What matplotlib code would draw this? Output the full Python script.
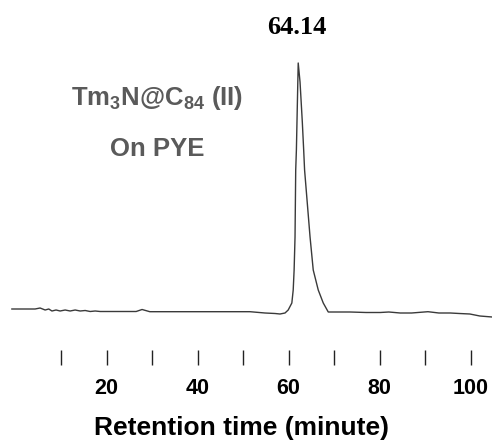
import matplotlib
matplotlib.use("Agg")
import matplotlib.pyplot as plt
import numpy as np

# chromatogram trace (time in minutes, signal in arb. units)
base_left_t = [-0.8, 4.3, 5.4, 6.5, 7.3, 8.0, 8.9, 9.8, 10.9, 12.0, 13.1, 14.2, 15.3,
               16.4, 17.5, 18.6, 22.0, 26.5, 27.8, 29.5, 35.0, 40.5, 46.0, 51.5, 54.8,
               57.0, 58.1, 59.2]
base_left_s = [3, 3, 4, 2, 3, 1, 2, 1, 2, 1, 2, 1, 1.5,
               0.5, 1, 0.5, 0.5, 0.5, 2.5, 0.3, 0.3, 0.3, 0.3, 0.3, -1,
               -1.5, -2, -1]
peak_t = [59.9, 60.7, 61.0, 61.2, 61.4, 61.55, 61.7, 62.1, 62.5, 63.0, 63.3, 63.5,
          64.7, 65.4, 66.5, 67.6, 68.7]
peak_s = [2, 9, 22, 42, 75, 142, 162, 249, 230, 190, 162, 142,
          75, 42, 22, 9, 0]
base_right_t = [70.0, 73.5, 77.0, 80.1, 82.0, 84.5, 87.0, 90.6, 93.0, 95.5, 97.5, 99.8,
                102.0, 104.7]
base_right_s = [0, 0, -0.5, -0.5, 0, -1, -1, 0.3, -1, -1, -1.5, -2,
                -4, -5]

time = np.array(base_left_t + peak_t + base_right_t)
signal = np.array(base_left_s + peak_s + base_right_s)

major_ticks = [20, 40, 60, 80, 100]
minor_ticks = [10, 30, 50, 70, 90]

plt.rcParams['mathtext.fontset'] = 'custom'
plt.rcParams['mathtext.rm'] = 'Liberation Sans:bold'
plt.rcParams['mathtext.it'] = 'Liberation Sans:bold'
plt.rcParams['mathtext.bf'] = 'Liberation Sans:bold'

fig = plt.figure(figsize=(4.92, 4.44), dpi=100)
ax = fig.add_axes([0, 79 / 444, 1, 365 / 444])
ax.plot(time, signal, color='#3a3a3a', lw=1.0)
ax.set_xlim(-3.41, 104.67)
ax.set_ylim(-53, 312)

for s in ax.spines.values():
    s.set_visible(False)
ax.set_yticks([])
ax.set_xticks(major_ticks)
ax.set_xticks(minor_ticks, minor=True)
ax.tick_params(axis='x', which='both', direction='in', length=11, width=1.0,
               color='#222222', pad=9)
ax.tick_params(axis='x', which='major', labelsize=15.5)
for lab in ax.get_xticklabels():
    lab.set_fontfamily('Liberation Sans')
    lab.set_fontweight('bold')

fig.text(241 / 492, 1 - 428 / 444, 'Retention time (minute)', ha='center', va='center',
         fontsize=19, fontweight='bold', family='Liberation Sans')
fig.text(297 / 492, 1 - 27 / 444, '64.14', ha='center', va='center',
         fontsize=19, fontweight='bold', family='Liberation Serif')
fig.text(157 / 492, 1 - 98 / 444, r'Tm$_3$N@C$_{84}$ (II)', ha='center', va='center',
         fontsize=18.5, fontweight='bold', family='Liberation Sans', color='#5a5a5a')
fig.text(157 / 492, 1 - 149 / 444, 'On PYE', ha='center', va='center',
         fontsize=18.5, fontweight='bold', family='Liberation Sans', color='#5a5a5a')

fig.savefig('out.png', dpi=100)
